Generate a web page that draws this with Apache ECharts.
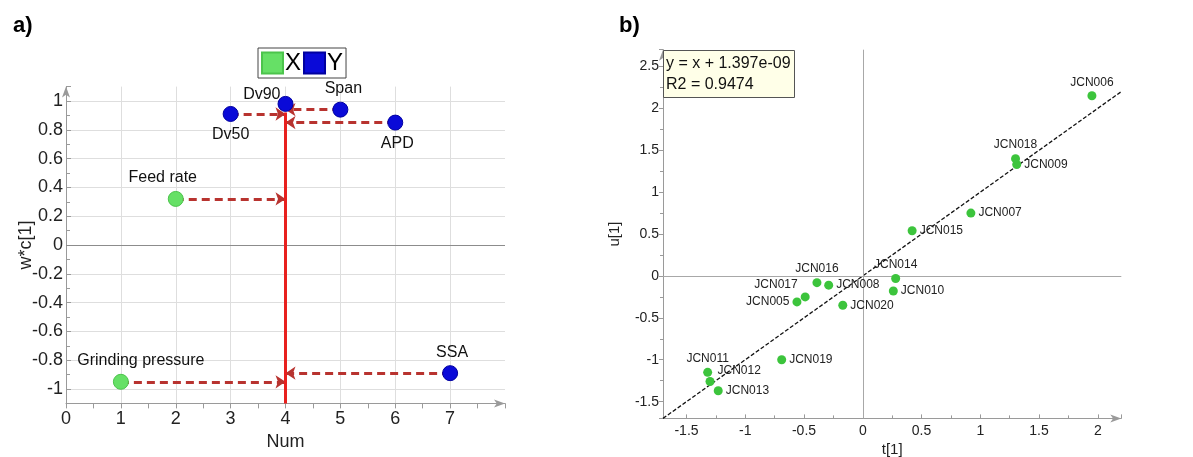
<!DOCTYPE html>
<html><head><meta charset="utf-8">
<script src="https://cdn.jsdelivr.net/npm/echarts@6/dist/echarts.min.js"></script>
<style>html,body{margin:0;padding:0;background:#fff}#c{width:1193px;height:457px}</style>
</head><body><div id="c"></div><script>
// ---- panel a) data ----
const xNames = ['Grinding pressure', 'Feed rate'];
const xNum = [1, 2];
const xW = [-0.95, 0.32];
const yNames = ['Dv50', 'Dv90', 'Span', 'APD', 'SSA'];
const yNum = [3, 4, 5, 6, 7];
const yW = [0.91, 0.98, 0.94, 0.85, -0.89];
const innerNum = 4;
const innerTop = 0.92;
const aXTicks = [0, 8];
const aYTicks = [-1.1, 1.1];
// ---- panel b) data ----
const obsNames = ['JCN005','JCN006','JCN007','JCN008','JCN009','JCN010','JCN011','JCN012','JCN013','JCN014','JCN015','JCN016','JCN017','JCN018','JCN019','JCN020'];
const tVals = [-0.56, 1.95, 0.92, -0.29, 1.31, 0.26, -1.32, -1.30, -1.23, 0.28, 0.42, -0.39, -0.49, 1.30, -0.69, -0.17];
const uVals = [-0.31, 2.15, 0.75, -0.11, 1.33, -0.18, -1.15, -1.26, -1.37, -0.03, 0.54, -0.08, -0.25, 1.40, -1.00, -0.35];
const fitSlope = 1, fitIntercept = 1.397e-09, fitR2 = 0.9474;
const bXRange = [-1.7, 2.2];
const bYRange = [-1.7, 2.7];

// ---- styles ----
const FONT = "'Liberation Sans', Arial, sans-serif";
const aLabelStyle = {
  'Grinding pressure': {position: 'top', offset: [20, 0]},
  'Feed rate': {position: 'top', offset: [-13, 0]},
  'Dv50': {position: 'bottom', offset: [0, 0]},
  'Dv90': {position: 'left', offset: [8, -9]},
  'Span': {position: 'top', offset: [3, 0]},
  'APD': {position: 'bottom', offset: [2, 0]},
  'SSA': {position: 'top', offset: [2, 0]}
};
const bLabelStyle = {
  JCN006: {position: 'top'}, JCN018: {position: 'top'}, JCN014: {position: 'top'},
  JCN016: {position: 'top'}, JCN011: {position: 'top'},
  JCN017: {position: 'left', offset: [0, -12]}, JCN005: {position: 'left'},
  JCN012: {position: 'right', offset: [0, -11]}
};

function ptData(names, xs, ys) {
  return names.map((n, i) => ({name: n, value: [xs[i], ys[i]], label: aLabelStyle[n]}));
}
function arrows(xs, ys) {
  const out = [];
  xs.forEach((x, i) => { if (x !== innerNum) out.push([{coord: [x, ys[i]]}, {coord: [innerNum, ys[i]]}]); });
  return out;
}
const dashStyle = {color: '#b8332f', width: 3, type: [8, 5]};
const arrowMark = (xs, ys) => ({
  silent: true, z: 3, symbol: ['none', 'arrow'], symbolSize: 10,
  label: {show: false}, lineStyle: dashStyle, data: arrows(xs, ys)
});

const axisGray = '#9a9a9a';
const tickLabA = {color: '#222', fontSize: 18, fontFamily: FONT};
const tickLabB = {color: '#222', fontSize: 14, fontFamily: FONT};

const fitLine = [bXRange[0], bXRange[1]].map(t => [t, fitSlope * t + fitIntercept]);

const option = {
  animation: false,
  backgroundColor: '#fff',
  title: [
    {text: 'a)', left: 8, top: 10, textStyle: {fontSize: 22, fontWeight: 'bold', color: '#000', fontFamily: FONT}},
    {text: 'b)', left: 614, top: 10, textStyle: {fontSize: 22, fontWeight: 'bold', color: '#000', fontFamily: FONT}},
    {text: 'y = x + ' + fitIntercept.toExponential(3).replace('e-9', 'e-09') + '\nR2 = ' + fitR2,
     left: 663, top: 50, padding: [3, 4, 3, 3], backgroundColor: '#ffffe8', borderColor: '#555', borderWidth: 1,
     textStyle: {fontSize: 16, fontWeight: 'normal', color: '#111', fontFamily: FONT, lineHeight: 21}}
  ],
  legend: {
    data: ['X', 'Y'], left: 258, top: 48, orient: 'horizontal',
    itemWidth: 21, itemHeight: 21, itemGap: 2, icon: 'rect',
    padding: [3, 3, 3, 3], borderColor: '#444', borderWidth: 1,
    textStyle: {fontSize: 24, color: '#000', fontFamily: FONT, padding: [0, 0, 0, -3]}
  },
  grid: [
    {left: 66, top: 86.6, width: 439, height: 316.8, outerBoundsMode: 'none', containLabel: false},
    {left: 663, top: 49.7, width: 458.3, height: 368.7, outerBoundsMode: 'none', containLabel: false}
  ],
  xAxis: [
    {gridIndex: 0, type: 'value', min: aXTicks[0], max: aXTicks[1], interval: 1,
     name: 'Num', nameLocation: 'middle', nameGap: 30, nameMoveOverlap: false,
     nameTextStyle: {fontSize: 18, color: '#222', fontFamily: FONT},
     axisLine: {onZero: false, lineStyle: {color: axisGray}, symbol: ['none', 'arrow'], symbolSize: [6, 11]},
     axisTick: {show: true, length: 5, lineStyle: {color: axisGray}},
     minorTick: {show: true, splitNumber: 2, length: 5, lineStyle: {color: axisGray}},
     axisLabel: {...tickLabA, margin: 7, showMaxLabel: false},
     splitLine: {show: true, showMaxLine: false, lineStyle: {color: '#dedede'}}},
    {gridIndex: 1, type: 'value', min: bXRange[0], max: bXRange[1], splitNumber: 8,
     name: 't[1]', nameLocation: 'middle', nameGap: 24, nameMoveOverlap: false,
     nameTextStyle: {fontSize: 15, color: '#222', fontFamily: FONT},
     axisLine: {onZero: false, lineStyle: {color: axisGray}, symbol: ['none', 'arrow'], symbolSize: [6, 11]},
     axisTick: {show: true, inside: true, length: 4, lineStyle: {color: axisGray}},
     minorTick: {show: true, splitNumber: 2, length: 3, lineStyle: {color: axisGray}},
     axisLabel: {...tickLabB, margin: 6, showMinLabel: false, showMaxLabel: false},
     splitLine: {show: false}}
  ],
  yAxis: [
    {gridIndex: 0, type: 'value', min: aYTicks[0], max: aYTicks[1], splitNumber: 11,
     name: 'w*c[1]', nameLocation: 'middle', nameGap: 31, nameRotate: 90, nameMoveOverlap: false,
     nameTextStyle: {fontSize: 18, color: '#222', fontFamily: FONT},
     axisLine: {onZero: false, lineStyle: {color: axisGray}, symbol: ['none', 'arrow'], symbolSize: [6, 11]},
     axisTick: {show: true, inside: true, length: 5, lineStyle: {color: axisGray}},
     minorTick: {show: true, splitNumber: 2, length: 4, lineStyle: {color: axisGray}},
     axisLabel: {...tickLabA, margin: 3, showMinLabel: false, showMaxLabel: false},
     splitLine: {show: true, showMinLine: false, showMaxLine: false, lineStyle: {color: '#dedede'}}},
    {gridIndex: 1, type: 'value', min: bYRange[0], max: bYRange[1], splitNumber: 9,
     name: 'u[1]', nameLocation: 'middle', nameGap: 41, nameRotate: 90, nameMoveOverlap: false,
     nameTextStyle: {fontSize: 15, color: '#222', fontFamily: FONT},
     axisLine: {onZero: false, lineStyle: {color: axisGray}, symbol: ['none', 'arrow'], symbolSize: [6, 11]},
     axisTick: {show: true, length: 4, lineStyle: {color: axisGray}},
     minorTick: {show: true, splitNumber: 2, length: 3, lineStyle: {color: axisGray}},
     axisLabel: {...tickLabB, margin: 4, showMinLabel: false, showMaxLabel: false},
     splitLine: {show: false}}
  ],
  series: [
    {name: 'X', type: 'scatter', xAxisIndex: 0, yAxisIndex: 0, z: 6, symbolSize: 15,
     itemStyle: {color: '#66e066', borderColor: '#4cc44c', borderWidth: 1, opacity: 1},
     label: {show: true, formatter: '{b}', fontSize: 16, color: '#111', fontFamily: FONT},
     data: ptData(xNames, xNum, xW),
     markLine: {
       silent: true, z: 2, symbol: ['none', 'none'], label: {show: false},
       lineStyle: {color: '#8c8c8c', width: 1, type: 'solid'},
       data: [{yAxis: 0}]
     }},
    {name: 'X', type: 'scatter', xAxisIndex: 0, yAxisIndex: 0, z: 4, symbolSize: 0, data: [],
     markLine: arrowMark(xNum, xW)},
    {name: 'Y', type: 'scatter', xAxisIndex: 0, yAxisIndex: 0, z: 6, symbolSize: 15,
     itemStyle: {color: '#0a0ad8', borderColor: '#0000a0', borderWidth: 1, opacity: 1},
     label: {show: true, formatter: '{b}', fontSize: 16, color: '#111', fontFamily: FONT},
     data: ptData(yNames, yNum, yW),
     markLine: {
       silent: true, z: 4, symbol: ['none', 'none'], label: {show: false},
       lineStyle: {color: '#e8201e', width: 3, type: 'solid'},
       data: [[{coord: [innerNum, aYTicks[0]]}, {coord: [innerNum, innerTop]}]]
     }},
    {name: 'Y', type: 'scatter', xAxisIndex: 0, yAxisIndex: 0, z: 4, symbolSize: 0, data: [],
     markLine: arrowMark(yNum, yW)},
    {name: 'fit', type: 'line', xAxisIndex: 1, yAxisIndex: 1, z: 3, symbol: 'none',
     lineStyle: {color: '#111', width: 1.3, type: [4, 2]},
     data: fitLine,
     markLine: {
       silent: true, symbol: ['none', 'none'], label: {show: false},
       lineStyle: {color: '#a8a8a8', width: 1, type: 'solid'},
       data: [{xAxis: 0}, {yAxis: 0}]
     }},
    {name: 'obs', type: 'scatter', xAxisIndex: 1, yAxisIndex: 1, z: 5, symbolSize: 9,
     itemStyle: {color: '#3cc43c', opacity: 1},
     label: {show: true, position: 'right', distance: 3, formatter: '{b}', fontSize: 12, color: '#222', fontFamily: FONT},
     data: obsNames.map((n, i) => ({name: n, value: [tVals[i], uVals[i]], label: bLabelStyle[n]}))}
  ]
};
const chart = echarts.init(document.getElementById('c'), null, {renderer: 'canvas'});
chart.setOption(option);
</script></body></html>
